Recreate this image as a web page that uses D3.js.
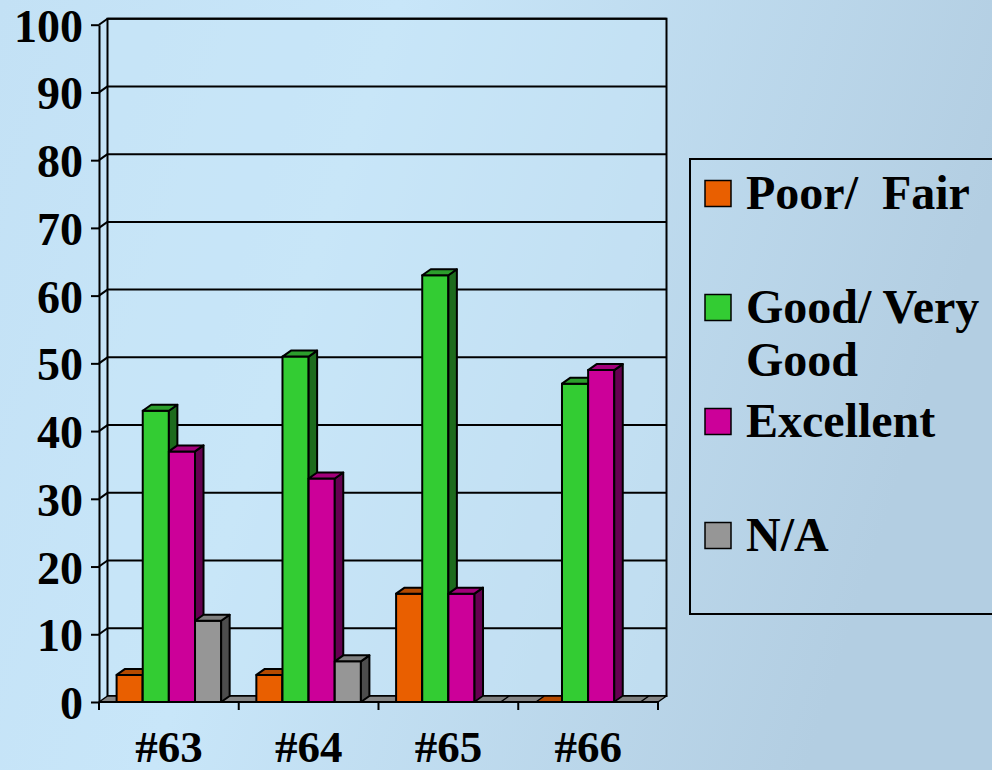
<!DOCTYPE html>
<html>
<head>
<meta charset="utf-8">
<script src="https://cdn.jsdelivr.net/npm/d3@7"></script>
<style>
  html, body { margin: 0; padding: 0; background: #c2dff2; }
  svg { display: block; }
  text { font-family: "Liberation Serif", "Times New Roman", serif; font-weight: bold; fill: #000; }
</style>
</head>
<body>
<svg id="chart" width="992" height="770"></svg>
<script>
// Ratings by survey question
const categories = ["#63", "#64", "#65", "#66"];
const seriesNames = ["Poor/  Fair", "Good/ Very Good", "Excellent", "N/A"];
const poorFair = [4, 4, 16, 0];
const goodVeryGood = [43, 51, 63, 47];
const excellent = [37, 33, 16, 49];
const notApplicable = [12, 6, 0, 0];
const yTicks = [0, 10, 20, 30, 40, 50, 60, 70, 80, 90, 100];

const seriesValues = [poorFair, goodVeryGood, excellent, notApplicable];

// face shades per series: front, top, side
const faceColors = [
  { front: "#e95f00", top: "#b54a00", side: "#7a3200" },
  { front: "#33cc33", top: "#2c9e2c", side: "#1d6b1d" },
  { front: "#cc0099", top: "#a2007a", side: "#640050" },
  { front: "#969696", top: "#7f7f7f", side: "#4d4d4d" }
];

const svg = d3.select("#chart");
const W = 992, H = 770;

// background gradient
const defs = svg.append("defs");
const bg = defs.append("linearGradient").attr("id", "bg")
  .attr("x1", "0").attr("y1", "0").attr("x2", "1").attr("y2", "0.25");
bg.append("stop").attr("offset", "0").attr("stop-color", "#c3e1f5");
bg.append("stop").attr("offset", "0.38").attr("stop-color", "#c8e6f9");
bg.append("stop").attr("offset", "1").attr("stop-color", "#b3cee2");
svg.append("rect").attr("width", W).attr("height", H).attr("fill", "url(#bg)");

// plot geometry (front plane) and depth offset
const plotLeft = 99, plotRight = 658, plotBase = 702, plotTop = 24.7;
const dx = 8.5, dy = 6;

const y = d3.scaleLinear().domain([0, 100]).range([plotBase, plotTop]);
const x0 = d3.scaleBand().domain(categories).range([plotLeft, plotRight]).padding(0);
const innerPad = 17.6;
const x1 = d3.scaleBand().domain(d3.range(seriesNames.length))
  .range([innerPad, x0.bandwidth() - innerPad]).padding(0);

const g = svg.append("g");

// back wall
g.append("rect")
  .attr("x", plotLeft + dx).attr("y", y(100) - dy)
  .attr("width", plotRight - plotLeft).attr("height", plotBase - y(100))
  .attr("fill", "#c7e5f8").attr("fill-opacity", 0.5)
  .attr("stroke", "#000").attr("stroke-width", 2);

// gridlines on back wall and side wall
const grid = g.append("g").attr("stroke", "#000").attr("stroke-width", 2);
yTicks.filter(v => v > 0).forEach(v => {
  grid.append("line")
    .attr("x1", plotLeft + dx).attr("x2", plotRight + dx)
    .attr("y1", y(v) - dy).attr("y2", y(v) - dy);
  grid.append("line")
    .attr("x1", plotLeft).attr("x2", plotLeft + dx)
    .attr("y1", y(v)).attr("y2", y(v) - dy);
});

// floor
g.append("path")
  .attr("d", `M${plotLeft},${plotBase} L${plotRight},${plotBase} L${plotRight + dx},${plotBase - dy} L${plotLeft + dx},${plotBase - dy} Z`)
  .attr("fill", "#858585").attr("stroke", "#000").attr("stroke-width", 1.5)
  .attr("stroke-linejoin", "round");

// bars, drawn left to right so each front face overlaps the previous side face
const bars = [];
categories.forEach((c, ci) => {
  seriesValues.forEach((vals, si) => {
    bars.push({ c, si, v: vals[ci] });
  });
});

const barG = g.append("g").attr("stroke", "#000").attr("stroke-width", 2).attr("stroke-linejoin", "round");
bars.forEach(b => {
  const xa = x0(b.c) + x1(b.si);
  const xb = xa + x1.bandwidth();
  const yt = y(b.v);
  const col = faceColors[b.si];
  const bar = barG.append("g");
  if (b.v > 0) {
    bar.append("rect").attr("x", xa).attr("y", yt)
      .attr("width", xb - xa).attr("height", plotBase - yt).attr("fill", col.front);
    bar.append("path")
      .attr("d", `M${xb},${yt} L${xb + dx},${yt - dy} L${xb + dx},${plotBase - dy} L${xb},${plotBase} Z`)
      .attr("fill", col.side);
  }
  bar.append("path")
    .attr("d", `M${xa},${yt} L${xa + dx},${yt - dy} L${xb + dx},${yt - dy} L${xb},${yt} Z`)
    .attr("fill", col.top)
    .attr("stroke-width", b.v > 0 ? 2 : 1.5);
});

// y axis
const yAxis = g.append("g")
  .attr("transform", `translate(${plotLeft},0)`)
  .call(d3.axisLeft(y).tickValues(yTicks).tickSize(8).tickSizeOuter(0).tickPadding(8));
yAxis.attr("font-family", null).attr("font-size", null);
yAxis.select(".domain").attr("stroke", "#000").attr("stroke-width", 2);
yAxis.selectAll(".tick line").attr("stroke", "#000").attr("stroke-width", 2);
yAxis.selectAll(".tick text")
  .style("font-size", "46px").attr("dy", "0.36em").attr("x", -16);

// x axis: baseline, boundary ticks and category labels
const xAxis = g.append("g").attr("transform", `translate(0,${plotBase})`)
  .call(d3.axisBottom(x0).tickSize(0).tickPadding(28));
xAxis.select(".domain").remove();
xAxis.attr("font-family", null).attr("font-size", null);
xAxis.selectAll(".tick text").style("font-size", "45px").attr("dy", "0.71em");
const boundaries = categories.map(c => x0(c)).concat([plotRight]);
xAxis.selectAll("line.bound").data(boundaries).enter().append("line")
  .attr("class", "bound")
  .attr("x1", d => d).attr("x2", d => d).attr("y1", 0).attr("y2", 8)
  .attr("stroke", "#000").attr("stroke-width", 2);
xAxis.append("line").attr("x1", plotLeft).attr("x2", plotRight).attr("y1", 0).attr("y2", 0)
  .attr("stroke", "#000").attr("stroke-width", 2);

// legend
const legend = svg.append("g");
legend.append("rect")
  .attr("x", 690).attr("y", 159).attr("width", 320).attr("height", 455)
  .attr("fill", "none").attr("stroke", "#000").attr("stroke-width", 2);
const legendMaxWidth = 250;
seriesNames.forEach((name, i) => {
  const by = 209 + i * 114;
  legend.append("rect")
    .attr("x", 705).attr("y", by - 28.5).attr("width", 26).attr("height", 26)
    .attr("fill", faceColors[i].front).attr("stroke", "#000").attr("stroke-width", 1.5);
  const t = legend.append("text").attr("x", 746).attr("y", by)
    .style("font-size", "48px").style("white-space", "pre");
  // simple word wrap to fit the legend box
  const words = name.split(/(?<=\S)\s(?=\S)/);
  let line = [];
  let tspan = t.append("tspan").attr("x", 746).attr("y", by);
  let lineNo = 0;
  words.forEach(w => {
    line.push(w);
    tspan.text(line.join(" "));
    if (tspan.node().getComputedTextLength() > legendMaxWidth && line.length > 1) {
      line.pop();
      tspan.text(line.join(" "));
      line = [w];
      lineNo++;
      tspan = t.append("tspan").attr("x", 746).attr("y", by + lineNo * 53).text(w);
    }
  });
});
</script>
</body>
</html>
